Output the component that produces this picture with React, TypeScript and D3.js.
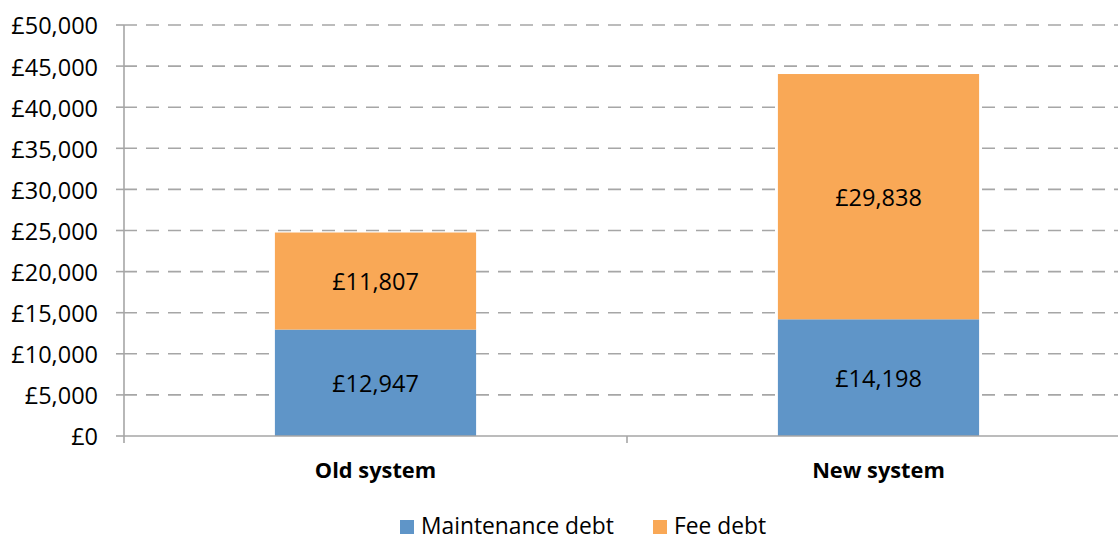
import React from "react";
import * as d3 from "d3";

const categories = ["Old system", "New system"];
const maintenanceDebt = [12947, 14198];
const feeDebt = [11807, 29838];
const yTicks = [0, 5000, 10000, 15000, 20000, 25000, 30000, 35000, 40000, 45000, 50000];
const seriesNames = ["Maintenance debt", "Fee debt"];

const BLUE = "#5f95c8";
const ORANGE = "#f9a856";
const GRID = "#a6a6a6";
const FONT = "'Open Sans', Lato, sans-serif";

export default function App() {
  const W = 1118, H = 540;
  const left = 124, top = 25, bottom = 436;
  const x = d3.scaleBand<string>().domain(categories).range([left, left + 1006]).padding(0);
  const y = d3.scaleLinear().domain([0, 50000]).range([bottom, top]);
  const fmt = (v: number) => "£" + d3.format(",")(v);
  const bw = x.bandwidth() * 0.4;

  return (
    <svg width={W} height={H} style={{ position: "absolute", left: 0, top: 0, background: "#fff" }} fontFamily={FONT}>
      {yTicks.map((t) => (
        <g key={t}>
          {t > 0 && (
            <line x1={left} x2={W} y1={y(t)} y2={y(t)} stroke={GRID} strokeWidth={1.6} strokeDasharray="13,9" />
          )}
          <line x1={left - 8} x2={left} y1={y(t)} y2={y(t)} stroke={GRID} strokeWidth={1.6} />
          <text x={left - 26} y={y(t)} dy="0.4em" textAnchor="end" fontSize={23.5} fill="#000">
            {fmt(t)}
          </text>
        </g>
      ))}
      {categories.map((c, i) => {
        const cx = (x(c) as number) + x.bandwidth() / 2;
        const m = maintenanceDebt[i];
        const f = feeDebt[i];
        return (
          <g key={c}>
            <rect x={cx - bw / 2} width={bw} y={y(m)} height={y(0) - y(m)} fill={BLUE} />
            <rect x={cx - bw / 2} width={bw} y={y(m + f)} height={y(m) - y(m + f)} fill={ORANGE} />
            <text x={cx} y={(y(0) + y(m)) / 2} dy="0.38em" textAnchor="middle" fontSize={23.5} fill="#000">{fmt(m)}</text>
            <text x={cx} y={(y(m) + y(m + f)) / 2} dy="0.38em" textAnchor="middle" fontSize={23.5} fill="#000">{fmt(f)}</text>
            <text x={cx} y={470} dy="0.38em" textAnchor="middle" fontSize={21.8} fontWeight="bold" fill="#000">{c}</text>
          </g>
        );
      })}
      <line x1={left} x2={left} y1={top} y2={bottom + 7} stroke={GRID} strokeWidth={1.6} />
      <line x1={left} x2={left + 1006} y1={bottom} y2={bottom} stroke={GRID} strokeWidth={1.6} />
      {categories.map((c, i) => (
        <line key={"t" + i} x1={(x(c) as number) + x.bandwidth()} x2={(x(c) as number) + x.bandwidth()} y1={bottom} y2={bottom + 7} stroke={GRID} strokeWidth={1.6} />
      ))}
      <g>
        <rect x={400} y={520} width={14} height={14} fill={BLUE} />
        <text x={421} y={534} fontSize={22.8} fill="#000">{seriesNames[0]}</text>
        <rect x={653} y={520} width={14} height={14} fill={ORANGE} />
        <text x={674} y={534} fontSize={22.8} fill="#000">{seriesNames[1]}</text>
      </g>
    </svg>
  );
}
